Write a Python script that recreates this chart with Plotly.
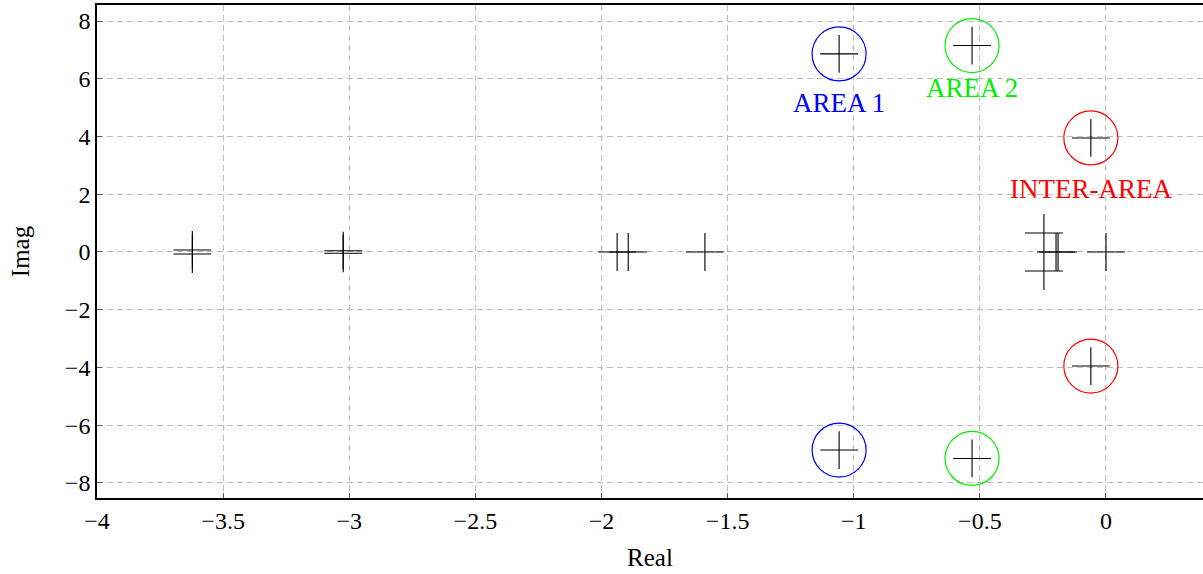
import plotly.graph_objects as go

# Eigenvalues (real, imaginary)
eig_real = [-3.622, -3.622, -3.024, -3.024, -1.938, -1.894, -1.59,
            -1.058, -1.058, -0.531, -0.531, -0.06, -0.06,
            -0.246, -0.246, -0.19, -0.198, 0.0]
eig_imag = [0.07, -0.07, 0.045, -0.045, 0.0, 0.0, 0.0,
            6.86, -6.86, 7.15, -7.15, 3.95, -3.95,
            0.66, -0.66, 0.0, 0.0, 0.0]

# Highlighted modes
mode_names = ["AREA 1", "AREA 2", "INTER-AREA"]
mode_real = [-1.058, -0.531, -0.06]
mode_imag = [6.86, 7.15, 3.95]
mode_colors = ["#0000ff", "#00ee00", "#ff0000"]
label_imag = [5.16, 5.68, 2.18]

x_ticks = [-4, -3.5, -3, -2.5, -2, -1.5, -1, -0.5, 0]
x_tick_labels = ["\u22124", "\u22123.5", "\u22123", "\u22122.5", "\u22122",
                 "\u22121.5", "\u22121", "\u22120.5", "0"]
y_ticks = [-8, -6, -4, -2, 0, 2, 4, 6, 8]
y_tick_labels = ["\u22128", "\u22126", "\u22124", "\u22122", "0", "2", "4", "6", "8"]

FONT = "Liberation Serif"

fig = go.Figure()

for name, xr, yi, col in zip(mode_names, mode_real, mode_imag, mode_colors):
    fig.add_trace(go.Scatter(
        x=[xr, xr], y=[yi, -yi], mode="markers",
        marker=dict(symbol="circle-open", size=54, color=col,
                    line=dict(width=1.2, color=col)),
        showlegend=False, hoverinfo="skip"))

fig.add_trace(go.Scatter(
    x=eig_real, y=eig_imag, mode="markers",
    marker=dict(symbol="cross-thin", size=27, color="black",
                line=dict(width=1.1, color="black")),
    showlegend=False))

for name, xr, ly, col in zip(mode_names, mode_real, label_imag, mode_colors):
    fig.add_annotation(x=xr, y=ly, text=name, showarrow=False,
                       xanchor="center", yanchor="middle",
                       font=dict(family=FONT, size=27, color=col))

fig.update_layout(
    width=1203, height=574,
    margin=dict(l=97, r=0, t=5, b=76),
    plot_bgcolor="white", paper_bgcolor="white",
    font=dict(family=FONT, size=23, color="black"),
)
fig.update_xaxes(
    range=[-4, 0.3846], tickvals=x_ticks, ticktext=x_tick_labels,
    showgrid=True, gridcolor="#bdbdbd", griddash="6px,4px", gridwidth=1,
    showline=True, linecolor="black", linewidth=1.6, mirror=True,
    ticks="inside", ticklen=5, tickcolor="#555", zeroline=False,
    tickfont=dict(family=FONT, size=24),
    title=dict(text="Real", font=dict(family=FONT, size=25), standoff=16),
)
fig.update_yaxes(
    range=[-8.52, 8.554], tickvals=y_ticks, ticktext=y_tick_labels,
    showgrid=True, gridcolor="#bdbdbd", griddash="6px,4px", gridwidth=1,
    showline=True, linecolor="black", linewidth=1.6, mirror=False,
    ticks="inside", ticklen=5, tickcolor="#555", zeroline=False,
    tickfont=dict(family=FONT, size=24),
    title=dict(text="Imag", font=dict(family=FONT, size=25), standoff=28),
)

fig.write_html("out.html")
